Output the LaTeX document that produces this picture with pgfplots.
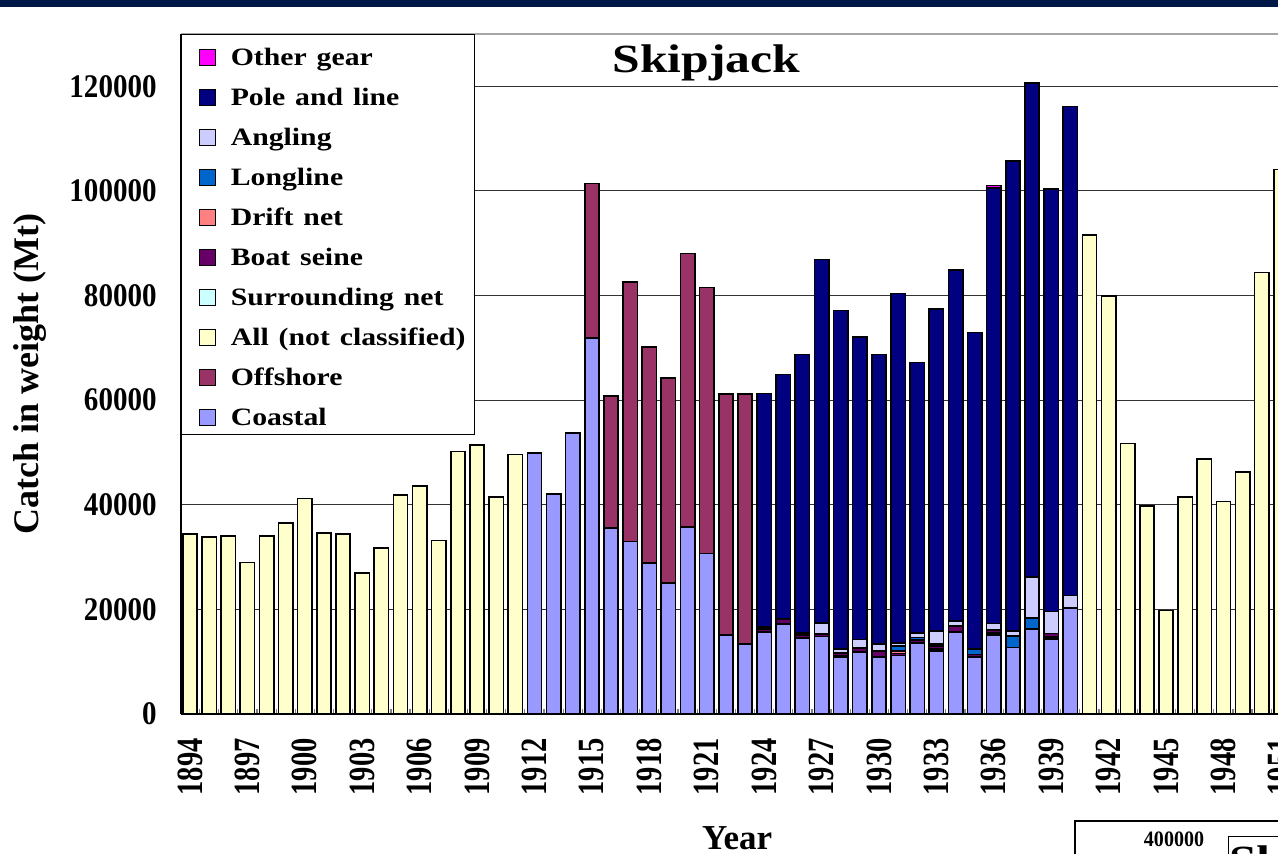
\documentclass[border=0pt]{standalone}
\usepackage{fontspec}
\setmainfont{Liberation Serif}
\usepackage{graphicx}
\usepackage{pgfplots}
\usepackage{pgfplotstable}
\pgfplotsset{compat=1.18}

\definecolor{cCoastal}{HTML}{9999FF}
\definecolor{cOffshore}{HTML}{993366}
\definecolor{cAll}{HTML}{FFFFCC}
\definecolor{cSurr}{HTML}{CCFFFF}
\definecolor{cBoat}{HTML}{660066}
\definecolor{cDrift}{HTML}{FF8080}
\definecolor{cLong}{HTML}{0066CC}
\definecolor{cAngl}{HTML}{CCCCFF}
\definecolor{cPole}{HTML}{000080}
\definecolor{cOther}{HTML}{FF00FF}
\definecolor{cBand}{HTML}{001848}

\pgfplotsset{sq/.style={legend image code/.code={\draw[##1,draw=black,line width=0.6pt] (0pt,-5.3pt) rectangle (8pt,2.7pt);}}}

\pgfplotstableread{
year coastal offshore allnc surr boat drift long angl pole other
1894 0 0 34400 0 0 0 0 0 0 0
1895 0 0 33830 0 0 0 0 0 0 0
1896 0 0 34070 0 0 0 0 0 0 0
1897 0 0 28990 0 0 0 0 0 0 0
1898 0 0 34070 0 0 0 0 0 0 0
1899 0 0 36500 0 0 0 0 0 0 0
1900 0 0 41220 0 0 0 0 0 0 0
1901 0 0 34650 0 0 0 0 0 0 0
1902 0 0 34400 0 0 0 0 0 0 0
1903 0 0 26950 0 0 0 0 0 0 0
1904 0 0 31730 0 0 0 0 0 0 0
1905 0 0 41850 0 0 0 0 0 0 0
1906 0 0 43620 0 0 0 0 0 0 0
1907 0 0 33200 0 0 0 0 0 0 0
1908 0 0 50190 0 0 0 0 0 0 0
1909 0 0 51400 0 0 0 0 0 0 0
1910 0 0 41520 0 0 0 0 0 0 0
1911 0 0 49620 0 0 0 0 0 0 0
1912 49930 0 0 0 0 0 0 0 0 0
1913 42100 0 0 0 0 0 0 0 0 0
1914 53750 0 0 0 0 0 0 0 0 0
1915 71900 29500 0 0 0 0 0 0 0 0
1916 35500 25300 0 0 0 0 0 0 0 0
1917 33000 49600 0 0 0 0 0 0 0 0
1918 28900 41300 0 0 0 0 0 0 0 0
1919 25000 39200 0 0 0 0 0 0 0 0
1920 35800 52200 0 0 0 0 0 0 0 0
1921 30700 50800 0 0 0 0 0 0 0 0
1922 15100 46100 0 0 0 0 0 0 0 0
1923 13400 47800 0 0 0 0 0 0 0 0
1924 15700 0 0 0 500 0 0 400 44670 0
1925 17200 0 0 0 1000 0 0 0 46700 0
1926 14500 0 0 0 550 0 0 400 53270 0
1927 14800 0 0 0 450 0 0 2200 69470 0
1928 10900 0 0 300 500 0 0 700 64720 0
1929 11800 0 0 0 760 0 0 1650 57820 0
1930 10900 0 0 0 1140 0 0 1330 55350 0
1931 11200 0 0 0 380 500 890 570 66830 0
1932 13600 0 0 0 500 0 500 900 51690 0
1933 12050 0 0 400 500 0 400 2500 61580 0
1934 15700 0 0 0 1080 0 0 1000 67100 0
1935 10900 0 0 0 500 0 1080 0 60440 0
1936 15100 0 0 400 500 0 0 1270 83330 400
1937 12700 0 0 0 0 0 2160 950 89960 0
1938 16300 0 0 0 0 0 2100 7750 94450 0
1939 14300 0 0 400 700 0 0 4190 80830 0
1940 20250 0 0 0 0 0 0 2410 93480 0
1941 0 0 91620 0 0 0 0 0 0 0
1942 0 0 79860 0 0 0 0 0 0 0
1943 0 0 51720 0 0 0 0 0 0 0
1944 0 0 39750 0 0 0 0 0 0 0
1945 0 0 19750 0 0 0 0 0 0 0
1946 0 0 41530 0 0 0 0 0 0 0
1947 0 0 48720 0 0 0 0 0 0 0
1948 0 0 40640 0 0 0 0 0 0 0
1949 0 0 46300 0 0 0 0 0 0 0
1950 0 0 84440 0 0 0 0 0 0 0
1951 0 0 104110 0 0 0 0 0 0 0
}\skipdata

\begin{document}
\begin{tikzpicture}
\useasboundingbox (0,0) rectangle (639pt,427pt);
\fill[white] (0,0) rectangle (639pt,427pt);
\clip (0,0) rectangle (639pt,427pt);
\fill[cBand] (0,423.5pt) rectangle (639pt,427pt);
\begin{axis}[
  at={(90.5pt,70pt)}, anchor=south west,
  width=564.3pt, height=340pt, scale only axis,
  xmin=1893.53, xmax=1952.5, ymin=0, ymax=130000,
  clip=false,
  ybar stacked, bar width=0.75,
  axis x line*=bottom, axis y line*=left,
  x axis line style={-, line width=1pt, black},
  y axis line style={-, line width=1pt, black},
  ytick={0,20000,40000,60000,80000,100000,120000},
  xtick={1894,1897,...,1951},
  minor xtick={1893.5,1894.5,...,1951.5},
  xtick style={gray, line width=0.6pt},
  major tick length=0pt,
  minor tick length=2.5pt,
  ytick style={draw=none},
  tick align=inside,
  ymajorgrids, grid style={black!80, line width=0.5pt},
  scaled y ticks=false,
  scaled x ticks=false,
  /pgf/number format/fixed,
  /pgf/number format/precision=0,
  /pgf/number format/1000 sep={},
  /pgf/number format/assume math mode=true,
  yticklabel style={font=\fontsize{16.5pt}{18pt}\selectfont\bfseries, inner sep=0pt, anchor=east},
  yticklabel={\scalebox{0.88}[1]{\pgfmathprintnumber[fixed,precision=0,1000 sep={},assume math mode=true]{\tick}}},
  yticklabel shift=12pt,
  xticklabel style={font=\fontsize{18.5pt}{20pt}\selectfont\bfseries, inner sep=0pt, rotate=90, anchor=east},
  xticklabel={\scalebox{0.77}[1]{\pgfmathprintnumber[fixed,precision=0,1000 sep={},assume math mode=true]{\tick}}},
  xticklabel shift=12pt,
  ylabel={Catch in weight (Mt)},
  ylabel style={at={(axis description cs:-0.1338,0.5)}, anchor=center, font=\fontsize{18pt}{20pt}\selectfont\bfseries},
  xlabel={Year},
  xlabel style={at={(axis description cs:0.4927,-0.1824)}, anchor=center, font=\fontsize{17.5pt}{20pt}\selectfont\bfseries},
  title={\scalebox{1.24}[1]{Skipjack}},
  title style={at={(axis description cs:0.4656,0.926)}, anchor=base, inner sep=0pt, font=\fontsize{20pt}{22pt}\selectfont\bfseries},
  reverse legend,
  legend cell align=left,
  legend style={at={(axis description cs:0,1)}, anchor=north west, draw=black, line width=0.6pt, fill=white,
    inner xsep=8.5pt, inner ysep=1pt, row sep=2pt, column sep=7.5pt,
    font=\fontsize{12.5pt}{14pt}\selectfont\bfseries,
    nodes={inner sep=0pt, text height=14.5pt, text depth=3.5pt, text width=113.5pt, align=left}},
]
\draw[gray!70, line width=0.6pt] (rel axis cs:0,1) -- (rel axis cs:1,1);
\addplot[fill=cCoastal, draw=black, line width=0.8pt, sq] table[x=year, y=coastal] {\skipdata};
\addlegendentry{\scalebox{1.19}[1]{Coastal}}
\addplot[fill=cOffshore, draw=black, line width=0.8pt, sq] table[x=year, y=offshore] {\skipdata};
\addlegendentry{\scalebox{1.19}[1]{Offshore}}
\addplot[fill=cAll, draw=black, line width=0.8pt, sq] table[x=year, y=allnc] {\skipdata};
\addlegendentry{\scalebox{1.19}[1]{All (not classified)}}
\addplot[fill=cSurr, draw=black, line width=0.8pt, sq] table[x=year, y=surr] {\skipdata};
\addlegendentry{\scalebox{1.19}[1]{Surrounding net}}
\addplot[fill=cBoat, draw=black, line width=0.8pt, sq] table[x=year, y=boat] {\skipdata};
\addlegendentry{\scalebox{1.19}[1]{Boat seine}}
\addplot[fill=cDrift, draw=black, line width=0.8pt, sq] table[x=year, y=drift] {\skipdata};
\addlegendentry{\scalebox{1.19}[1]{Drift net}}
\addplot[fill=cLong, draw=black, line width=0.8pt, sq] table[x=year, y=long] {\skipdata};
\addlegendentry{\scalebox{1.19}[1]{Longline}}
\addplot[fill=cAngl, draw=black, line width=0.8pt, sq] table[x=year, y=angl] {\skipdata};
\addlegendentry{\scalebox{1.19}[1]{Angling}}
\addplot[fill=cPole, draw=black, line width=0.8pt, sq] table[x=year, y=pole] {\skipdata};
\addlegendentry{\scalebox{1.19}[1]{Pole and line}}
\addplot[fill=cOther, draw=black, line width=0.8pt, sq] table[x=year, y=other] {\skipdata};
\addlegendentry{\scalebox{1.19}[1]{Other gear}}
\end{axis}
\draw[black, line width=0.6pt] (537.5pt,-2pt) -- (537.5pt,16.5pt) -- (645pt,16.5pt);
\node[font=\fontsize{11pt}{12pt}\selectfont\bfseries, inner sep=0pt] at (587pt,7.5pt) {\scalebox{0.91}[1]{400000}};
\draw[black, line width=0.5pt] (614pt,-2pt) -- (614pt,8.5pt) -- (645pt,8.5pt);
\node[anchor=north west, inner sep=0pt, font=\fontsize{20pt}{22pt}\selectfont\bfseries] at (614.5pt,4.5pt) {\scalebox{1.24}[1]{Skipjack}};
\end{tikzpicture}
\end{document}
